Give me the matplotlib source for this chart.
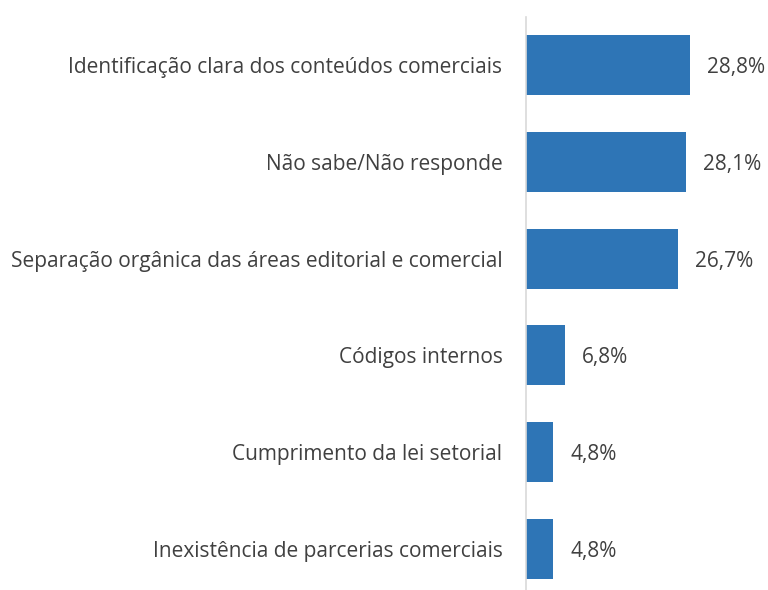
import matplotlib.pyplot as plt

categories = [
    "Identificação clara dos conteúdos comerciais",
    "Não sabe/Não responde",
    "Separação orgânica das áreas editorial e comercial",
    "Códigos internos",
    "Cumprimento da lei setorial",
    "Inexistência de parcerias comerciais",
]
values = [28.8, 28.1, 26.7, 6.8, 4.8, 4.8]
value_labels = ["28,8%", "28,1%", "26,7%", "6,8%", "4,8%", "4,8%"]

plt.rcParams['font.family'] = ['Open Sans', 'DejaVu Sans']

W, H = 768, 590
fig = plt.figure(figsize=(W / 100, H / 100), dpi=100)
# axes placed in pixel terms: left at x=526, top at y=17, bottom at y=597
ax = fig.add_axes([526 / W, (H - 597) / H, (W - 526) / W, (597 - 17) / H])

ypos = list(range(len(categories)))
ax.barh(ypos, values, height=0.62, color='#2E75B6')
ax.set_ylim(len(categories) - 0.5, -0.5)
ax.set_xlim(0, (W - 526) / 5.7)

for y, v, lab in zip(ypos, values, value_labels):
    ax.text(v + 3.0, y, lab, va='center_baseline', ha='left', fontsize=15, color='#404040')

ax.set_yticks(ypos)
ax.set_yticklabels(categories, fontsize=15, color='#404040')
ax.tick_params(axis='y', length=0, pad=17)
ax.set_xticks([])
for s in ['top', 'right', 'bottom']:
    ax.spines[s].set_visible(False)
ax.spines['left'].set_color('#D9D9D9')
ax.spines['left'].set_linewidth(1.2)

fig.savefig('out.png', dpi=100)
